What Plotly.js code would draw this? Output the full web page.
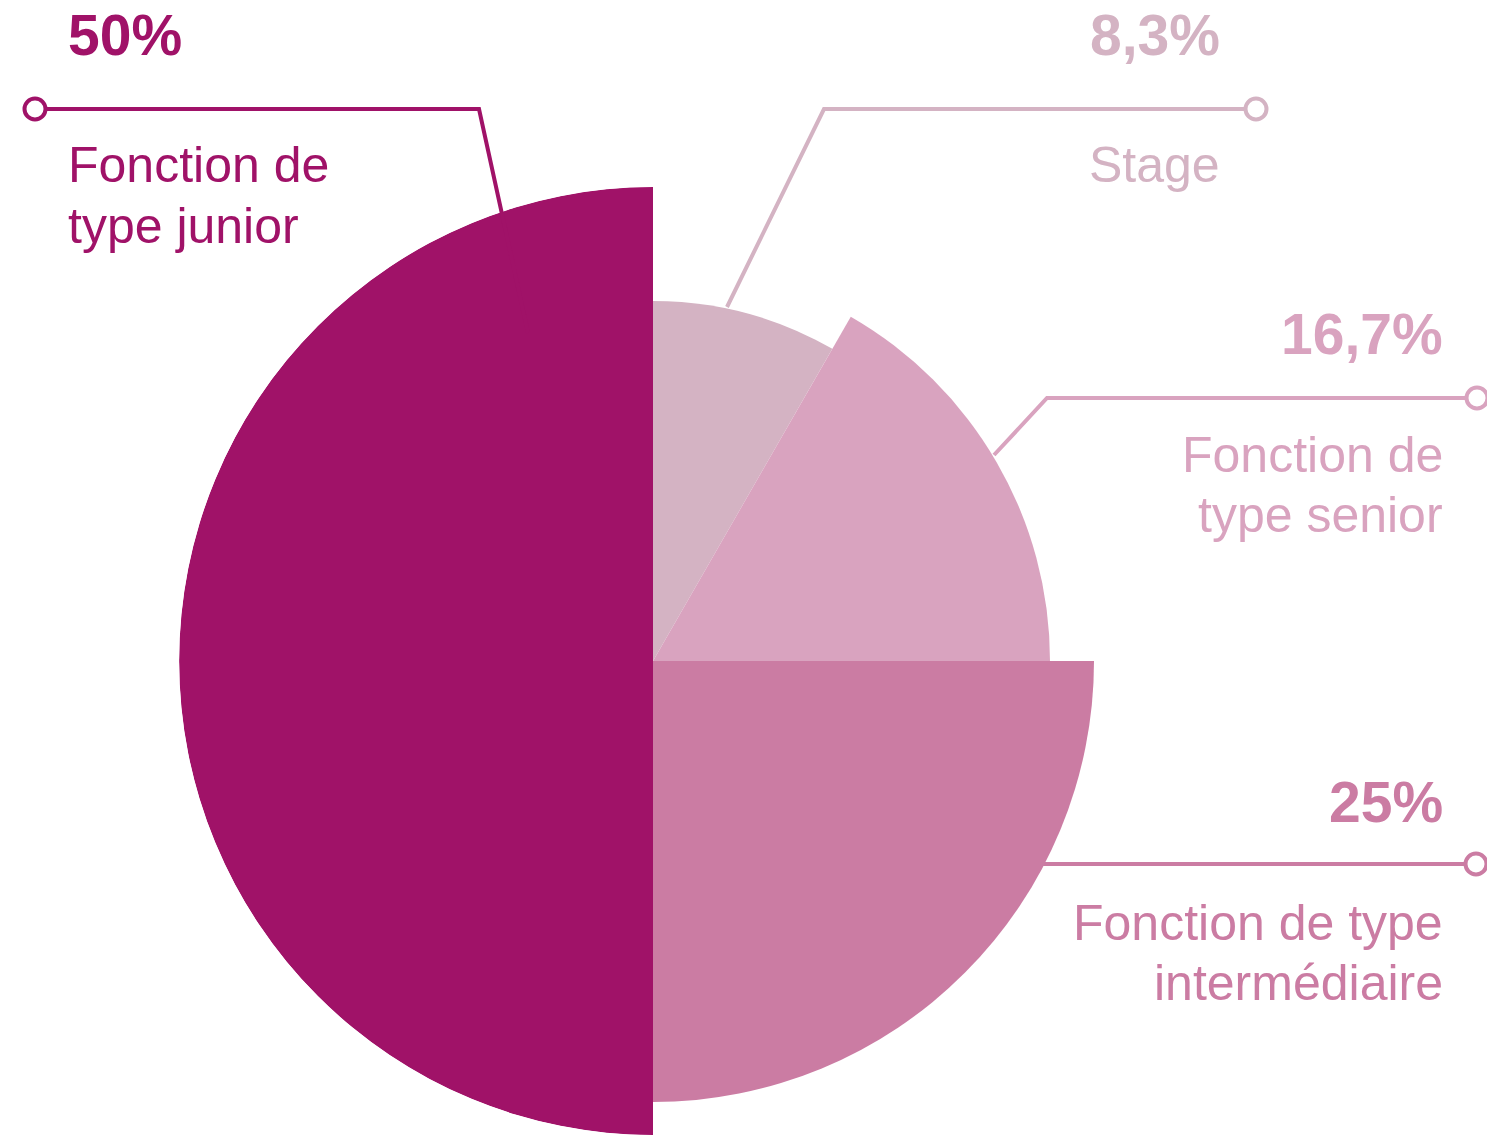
<!DOCTYPE html>
<html>
<head>
<meta charset="utf-8">
<script src="https://cdn.plot.ly/plotly-3.0.1.min.js"></script>
<style>
html,body{margin:0;padding:0;background:#fff;}
#chart{width:1487px;height:1135px;}
</style>
</head>
<body>
<div id="chart"></div>
<script>
// ---- data ----
const categories = ["Stage", "Fonction de type senior", "Fonction de type intermédiaire", "Fonction de type junior"];
const values = [8.3, 16.7, 25, 50];
const radius = [360, 397, 441, 474];
const labelLines = [
  ["Stage"],
  ["Fonction de", "type senior"],
  ["Fonction de type", "intermédiaire"],
  ["Fonction de", "type junior"]
];
const colors = ["#D4B3C3", "#D9A3BF", "#CB7CA3", "#A01268"];

// ---- layout helpers ----
const W = 1487, H = 1135;
const px = x => x / W;
const py = y => 1 - y / H;

// angular positions from values
const total = values.reduce((a, b) => a + b, 0);
let acc = 0;
const thetas = [], widths = [];
values.forEach(v => {
  const w = v / total * 360;
  thetas.push(acc + w / 2);
  widths.push(w);
  acc += w;
});

const trace = {
  type: "barpolar",
  r: radius,
  theta: thetas,
  width: widths,
  marker: { color: colors, line: { width: 0 } },
  hoverinfo: "skip",
  showlegend: false
};

// label placement (pixel positions)
const place = [
  { anchor: "right", x: 1222, pctY: 35, lineY: [165.5],
    leader: [[1256,109],[824,109],[727,307]], dot: [1256,109] },
  { anchor: "right", x: 1445, pctY: 334, lineY: [454.5, 514.5],
    leader: [[1477,398],[1047,398],[994,455]], dot: [1477,398] },
  { anchor: "right", x: 1445, pctY: 802, lineY: [922.5, 982.5],
    leader: [[1476,864],[1043,864]], dot: [1476,864] },
  { anchor: "left", x: 66, pctY: 35, lineY: [165.5, 225.5],
    leader: [[35,109],[479,109],[528,333]], dot: [35,109] }
];

const annotations = [];
const shapes = [];
const fontFam = "Liberation Sans, Arial, sans-serif";
values.forEach((v, i) => {
  const p = place[i];
  const pct = String(v).replace(".", ",") + "%";
  annotations.push({
    xref: "paper", yref: "paper", x: px(p.x), y: py(p.pctY),
    xanchor: p.anchor, yanchor: "middle", showarrow: false,
    text: "<b>" + pct + "</b>",
    font: { family: fontFam, size: 57, color: colors[i] }
  });
  labelLines[i].forEach((t, j) => {
    annotations.push({
      xref: "paper", yref: "paper", x: px(p.x), y: py(p.lineY[j]),
      xanchor: p.anchor, yanchor: "middle", showarrow: false,
      text: t,
      font: { family: fontFam, size: 50, color: colors[i] }
    });
  });
  const path = p.leader.map((pt, k) => (k === 0 ? "M" : "L") + px(pt[0]) + "," + py(pt[1])).join(" ");
  shapes.push({
    type: "path", xref: "paper", yref: "paper", path: path,
    line: { color: colors[i], width: 4 }, layer: "above"
  });
  const rr = 10.5;
  shapes.push({
    type: "circle", xref: "paper", yref: "paper",
    x0: px(p.dot[0] - rr), x1: px(p.dot[0] + rr),
    y0: py(p.dot[1] + rr), y1: py(p.dot[1] - rr),
    line: { color: colors[i], width: 4 }, fillcolor: "#ffffff", layer: "above"
  });
});

const layout = {
  width: W, height: H,
  margin: { l: 0, r: 0, t: 0, b: 0 },
  paper_bgcolor: "#ffffff",
  showlegend: false,
  polar: {
    domain: { x: [178 / W, 1128 / W], y: [0, 948 / H] },
    bgcolor: "rgba(0,0,0,0)",
    bargap: 0,
    hole: 0,
    radialaxis: { range: [0, 474], visible: false, showgrid: false, showline: false, showticklabels: false, ticks: "" },
    angularaxis: { direction: "clockwise", rotation: 90, visible: false, showgrid: false, showline: false, showticklabels: false, ticks: "" }
  },
  annotations: annotations,
  shapes: shapes
};

Plotly.newPlot("chart", [trace], layout, { displayModeBar: false, staticPlot: true });
</script>
</body>
</html>
